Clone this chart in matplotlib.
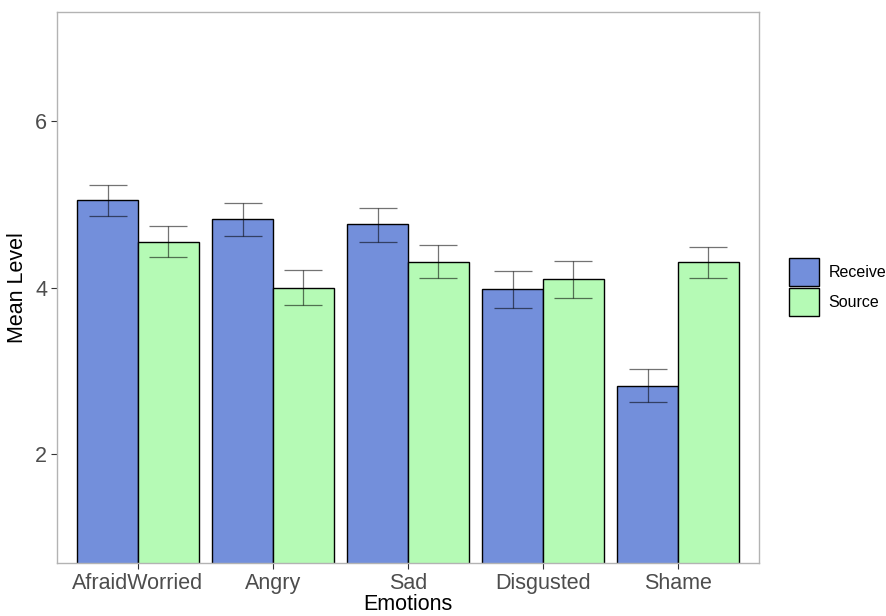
import matplotlib
matplotlib.use("Agg")
import matplotlib.pyplot as plt
import numpy as np
from matplotlib.patches import Patch

plt.rcParams['font.family'] = ['Liberation Sans', 'DejaVu Sans']

emotions = ["AfraidWorried", "Angry", "Sad", "Disgusted", "Shame"]
receive_mean = [5.05, 4.82, 4.76, 3.98, 2.82]
receive_lo = [4.86, 4.62, 4.54, 3.75, 2.63]
receive_hi = [5.23, 5.01, 4.95, 4.20, 3.02]
source_mean = [4.55, 3.99, 4.31, 4.10, 4.31]
source_lo = [4.36, 3.79, 4.11, 3.87, 4.11]
source_hi = [4.74, 4.21, 4.51, 4.32, 4.48]
groups = ["Receive", "Source"]
colors = ["#738fdb", "#b5fab5"]

fig = plt.figure(figsize=(8.87, 6.16), dpi=100)
ax = fig.add_axes([57 / 887, 1 - 563 / 616, (759 - 57) / 887, (563 - 12) / 616])

x = np.arange(1, len(emotions) + 1)
w = 0.45
series = [(receive_mean, receive_lo, receive_hi), (source_mean, source_lo, source_hi)]
for i, (m, lo, hi) in enumerate(series):
    pos = x + (i - 0.5) * w
    m = np.array(m)
    ax.bar(pos, m, width=w, bottom=0, color=colors[i], edgecolor="black",
           linewidth=1.0, zorder=2, label=groups[i])
    ax.errorbar(pos, m, yerr=[m - np.array(lo), np.array(hi) - m], fmt="none",
                ecolor=(0, 0, 0, 0.55), elinewidth=0.9, capsize=13.5,
                capthick=0.9, zorder=3)

ax.set_xlim(0.4, 5.6)
ax.set_ylim(0.7, 7.3)
ax.set_xticks(x)
ax.set_xticklabels(emotions)
ax.set_yticks([2, 4, 6])

for s in ax.spines.values():
    s.set_color("#b3b3b3")
    s.set_linewidth(1.0)
ax.tick_params(axis="both", colors="#333333", labelcolor="#4d4d4d",
               labelsize=15.5, length=4, width=0.8, direction="out", pad=3)

ax.set_xlabel("Emotions", fontsize=15.5, color="black", labelpad=0)
ax.set_ylabel("Mean Level", fontsize=15.5, color="black", labelpad=5)

handles = [Patch(facecolor=colors[i], edgecolor="black", linewidth=1.0, label=groups[i])
           for i in range(2)]
leg = fig.legend(handles=handles, loc="center left",
                 bbox_to_anchor=(789 / 887, 1 - 287 / 616), frameon=False,
                 fontsize=11.5, handlelength=1.88, handleheight=2.3,
                 labelspacing=0.12, handletextpad=0.6, borderpad=0,
                 borderaxespad=0)

fig.savefig("out.png", dpi=100)
